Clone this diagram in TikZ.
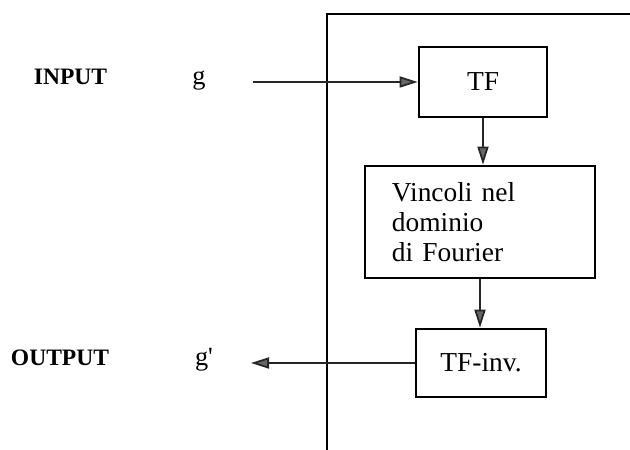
\documentclass[tikz,border=0pt]{standalone}
\usepackage{fontspec}
\setmainfont{Liberation Serif}
\usetikzlibrary{arrows.meta}

\begin{document}
\begin{tikzpicture}[
        blocco/.style={draw, line width=1.5pt, inner sep=0pt, font=\fontsize{15.6}{17}\selectfont},
        freccia/.style={-{Triangle[length=3.6mm, width=2.2mm, fill=black!60]}, line width=1pt, black!85},
        etichetta/.style={anchor=base, inner sep=0pt, font=\fontsize{15}{17}\selectfont}]
        \useasboundingbox (0,0) rectangle (12.6,9);
        \draw[line width=1.5pt] (6.54,0) -- (6.54,8.72) -- (12.7,8.72);
        \node[blocco, minimum width=2.56cm, minimum height=1.4cm] (tf) at (9.66,7.36) {TF};
        \node[blocco, minimum width=4.6cm, minimum height=2.24cm, text width=3.52cm, align=left] (vinc) at (9.6,4.56) {Vincoli nel\\ dominio\\ di Fourier};
        \node[blocco, minimum width=2.6cm, minimum height=1.36cm] (tfinv) at (9.62,1.74) {TF-inv.};
        \node[etichetta, font=\bfseries\fontsize{13.4}{16}\selectfont] (input) at (1.41,7.3) {INPUT};
        \node[etichetta] (g) at (3.98,7.3) {g};
        \node[etichetta, font=\bfseries\fontsize{13.4}{16}\selectfont] (output) at (1.2,1.68) {OUTPUT};
        \node[etichetta] (gp) at (4.08,1.68) {g\textquotesingle};
        \coordinate (ingresso) at (5.06,7.36);
        \coordinate (uscita) at (5.02,1.74);
        \draw[freccia] (ingresso) -- (tf.west);
        \draw[freccia] (tf.south) -- (tf.south |- vinc.north);
        \draw[freccia] (vinc.south) -- (vinc.south |- tfinv.north);
        \draw[freccia] (tfinv.west) -- (uscita);
    \end{tikzpicture}
\end{document}
